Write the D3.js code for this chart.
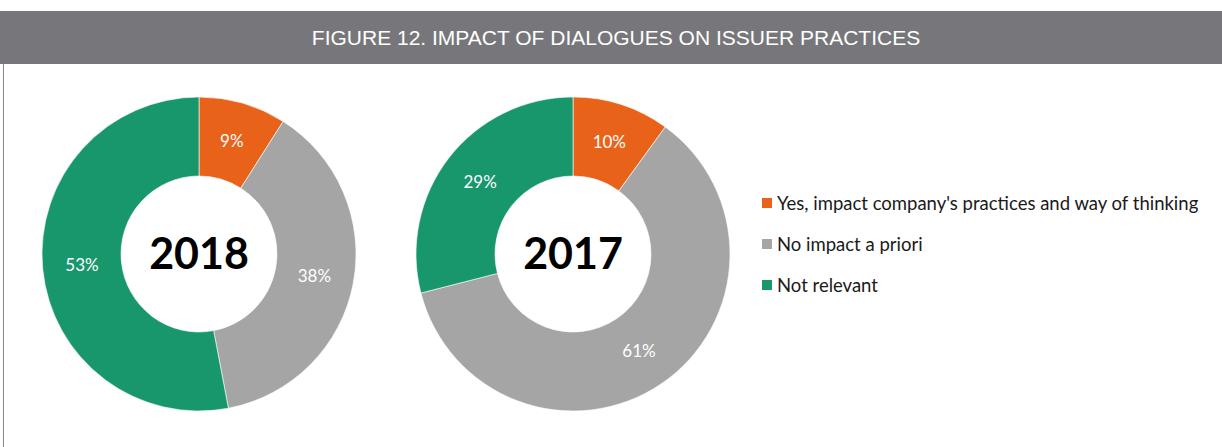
<!DOCTYPE html>
<html>
<head>
<meta charset="utf-8">
<script src="https://cdn.jsdelivr.net/npm/d3@7"></script>
<style>
  html, body { margin: 0; padding: 0; background: #fff; }
  svg { display: block; }
</style>
</head>
<body>
<svg id="chart" width="1222" height="447"></svg>
<script>
const title = 'FIGURE 12. IMPACT OF DIALOGUES ON ISSUER PRACTICES';
const categories = ["Yes, impact company's practices and way of thinking", 'No impact a priori', 'Not relevant'];
const colors = ['#E8621A', '#A5A5A5', '#18966C'];
const years = ['2018', '2017'];
const values2018 = [9, 38, 53];
const values2017 = [10, 61, 29];

const svg = d3.select('#chart');
const width = 1222;
const height = 447;

// header band
svg.append('rect')
  .attr('x', 0).attr('y', 11)
  .attr('width', width).attr('height', 53)
  .attr('fill', '#77777B');

svg.append('text')
  .attr('x', 616).attr('y', 45)
  .attr('text-anchor', 'middle')
  .attr('fill', '#fff')
  .attr('font-family', '"Liberation Sans Narrow", "Liberation Sans", Arial, sans-serif')
  .attr('font-size', 21)
  .text(title);

// left frame line
svg.append('line')
  .attr('x1', 3.5).attr('x2', 3.5)
  .attr('y1', 64).attr('y2', height)
  .attr('stroke', '#8a8a8a')
  .attr('stroke-width', 1);

const outerR = 157;
const innerR = 78;
const centers = [[199, 254], [573, 254]];
const series = [values2018, values2017];

const color = d3.scaleOrdinal().domain(categories).range(colors);
const pie = d3.pie().sort(null).value((d) => d.value);
const arc = d3.arc().innerRadius(innerR).outerRadius(outerR);

series.forEach((vals, i) => {
  const data = vals.map((v, j) => ({ name: categories[j], value: v }));
  const g = svg.append('g').attr('transform', `translate(${centers[i][0]},${centers[i][1]})`);

  g.selectAll('path')
    .data(pie(data))
    .enter()
    .append('path')
    .attr('d', arc)
    .attr('fill', (d) => color(d.data.name))
    .attr('stroke', '#fff')
    .attr('stroke-width', 0.6);

  g.selectAll('text.pct')
    .data(pie(data))
    .enter()
    .append('text')
    .attr('class', 'pct')
    .attr('transform', (d) => `translate(${arc.centroid(d)})`)
    .attr('text-anchor', 'middle')
    .attr('dy', '0.35em')
    .attr('fill', '#fff')
    .attr('font-family', 'Lato, "Open Sans", sans-serif')
    .attr('font-size', 17)
    .text((d) => `${d.data.value}%`);

  g.append('text')
    .attr('text-anchor', 'middle')
    .attr('dy', '0.36em')
    .attr('fill', '#000')
    .attr('font-family', 'Lato, "Open Sans", sans-serif')
    .attr('font-weight', 'bold')
    .attr('font-size', 43)
    .text(years[i]);
});

// legend
const legend = svg.append('g').attr('transform', 'translate(762,204)');
const row = legend.selectAll('g')
  .data(categories)
  .enter()
  .append('g')
  .attr('transform', (d, i) => `translate(0,${i * 41})`);

row.append('rect')
  .attr('x', 0).attr('y', -6)
  .attr('width', 10).attr('height', 10)
  .attr('fill', (d) => color(d));

row.append('text')
  .attr('x', 15)
  .attr('dy', '0.32em')
  .attr('fill', '#1a1a1a')
  .attr('font-family', 'Lato, "Open Sans", sans-serif')
  .attr('font-size', 18.5)
  .text((d) => d);
</script>
</body>
</html>
